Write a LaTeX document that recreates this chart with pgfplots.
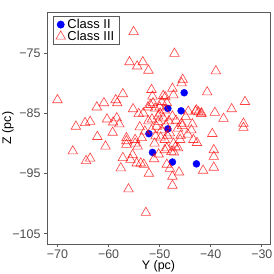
\documentclass[border=0pt]{standalone}
\usepackage{fontspec}
\setmainfont{Liberation Sans}
\usepackage{pgfplots}
\pgfplotsset{compat=1.18}
\usetikzlibrary{calc}
\definecolor{framegray}{RGB}{90,90,90}
\definecolor{ticklab}{RGB}{77,77,77}
\begin{document}
\begin{tikzpicture}
\begin{axis}[
  width=223bp, height=232bp, scale only axis,
  xmin=-72.05, xmax=-28.4, ymin=-106.7, ymax=-68.2,
  axis line style={framegray, line width=0.8bp},
  xtick={-70,-60,-50,-40,-30},
  xticklabels={−70,−60,−50,−40,−30},
  ytick={-105,-95,-85,-75},
  yticklabels={−105,−95,−85,−75},
  xtick pos=bottom, ytick pos=left,
  tick align=outside, major tick length=3bp,
  tick style={framegray, line width=0.8bp},
  ticklabel style={font=\fontsize{12.5}{14}\selectfont, text=ticklab},
  xticklabel style={yshift=1bp},
  yticklabel style={xshift=0bp},
  xlabel={Y (pc)}, ylabel={Z (pc)},
  label style={font=\fontsize{12.5}{14}\selectfont},
  xlabel style={at={(axis description cs:0.5,0)}, anchor=center, yshift=-22.5bp},
  ylabel style={at={(axis description cs:0,0.5)}, anchor=center, yshift=39bp},
  legend style={at={(0.025,0.983)}, anchor=north west, draw=framegray, line width=0.8bp,
    font=\fontsize{13}{13.5}\selectfont, inner xsep=3bp, inner ysep=0.8bp, row sep=-3bp,
    legend cell align=left},
  clip=false,
]
\addplot[only marks, mark=*, mark size=3.5bp, mark options={fill=blue, draw=blue}] coordinates {
(-45.2,-81.6) (-48.4,-84.2) (-45.8,-84.6) (-48.4,-87.6) (-52.1,-88.4) (-51.4,-91.5) (-47.5,-93.1) (-42.8,-93.4)
};
\addlegendentry{Class II}
\addplot[only marks, mark=triangle, mark size=5.5bp, mark options={draw=red, draw opacity=0.75, line width=0.6bp}] coordinates {
(-55.1,-71.5) (-47.1,-75.1) (-55.9,-76.5) (-54.4,-77.2) (-53.3,-76.5) (-52.2,-77.9) (-45.5,-79.4) (-39.0,-78.0)
(-70.0,-82.8) (-57.2,-81.8) (-58.6,-82.8) (-58.3,-83.3) (-60.9,-83.3) (-62.3,-84.0) (-55.2,-84.3) (-54.1,-85.1)
(-60.3,-86.0) (-58.4,-85.8) (-59.1,-86.5) (-57.9,-86.8) (-63.6,-86.4) (-64.6,-86.6) (-66.4,-87.2) (-62.2,-88.9)
(-59.2,-88.2) (-56.5,-89.1) (-56.5,-89.6) (-56.5,-90.2) (-54.8,-90.0) (-60.6,-90.5) (-67.0,-91.3) (-64.4,-92.9)
(-63.6,-92.5) (-57.2,-92.4) (-57.6,-94.1) (-55.3,-91.9) (-55.7,-92.7) (-54.5,-93.3) (-56.1,-97.6) (-52.7,-101.5)
(-47.5,-97.0) (-47.5,-95.5) (-46.2,-94.8) (-48.6,-93.5) (-48.0,-94.2) (-52.1,-95.0) (-51.1,-92.6) (-54.3,-90.5)
(-53.7,-93.3) (-53.1,-93.5) (-41.5,-94.5) (-39.4,-94.0) (-39.4,-92.2) (-39.4,-91.1) (-39.7,-88.4) (-43.4,-89.4)
(-45.9,-88.7) (-48.6,-90.8) (-46.9,-90.6) (-47.2,-91.5) (-33.6,-87.4) (-42.7,-89.9) (-40.7,-81.5) (-33.3,-83.1)
(-35.9,-84.3) (-39.2,-84.9) (-37.5,-85.9) (-41.9,-85.1) (-42.4,-84.8) (-33.6,-86.7) (-43.0,-84.7) (-43.6,-86.8)
(-43.8,-87.8) (-45.6,-87.1) (-44.9,-85.6) (-51.6,-81.1) (-51.4,-82.2) (-47.5,-80.9) (-49.3,-82.1) (-47.3,-82.0)
(-45.7,-80.0) (-53.2,-85.0) (-51.3,-83.3) (-50.9,-84.2) (-49.6,-83.1) (-48.6,-83.3) (-49.9,-85.0) (-49.3,-85.8)
(-50.3,-86.4) (-50.6,-87.2) (-49.6,-87.8) (-51.6,-87.8) (-48.0,-88.3) (-46.4,-87.5) (-44.4,-84.7) (-42.8,-84.5)
(-41.8,-85.0) (-45.7,-86.7) (-54.8,-89.4) (-53.5,-89.1) (-49.0,-89.4) (-47.3,-90.0) (-46.0,-89.4) (-49.0,-91.1)
(-47.7,-91.4) (-46.4,-90.8) (-52.3,-84.0) (-51.5,-86.0) (-52.2,-86.3) (-52.9,-88.0) (-51.8,-83.6) (-48.9,-82.3)
(-49.0,-84.5) (-50.0,-84.0) (-48.2,-86.3) (-47.5,-85.5) (-50.8,-88.8) (-49.8,-89.0) (-48.5,-88.7) (-50.3,-85.5)
(-48.8,-87.0) (-46.8,-86.2) (-51.0,-90.0) (-50.2,-91.8) (-53.9,-87.3) (-44.5,-88.5)
};
\addlegendentry{Class III}
\end{axis}
\pgfresetboundingbox
\path[use as bounding box] ($(current axis.south west)+(-47bp,-30bp)$) rectangle ($(current axis.north east)+(4bp,12bp)$);
\end{tikzpicture}
\end{document}
